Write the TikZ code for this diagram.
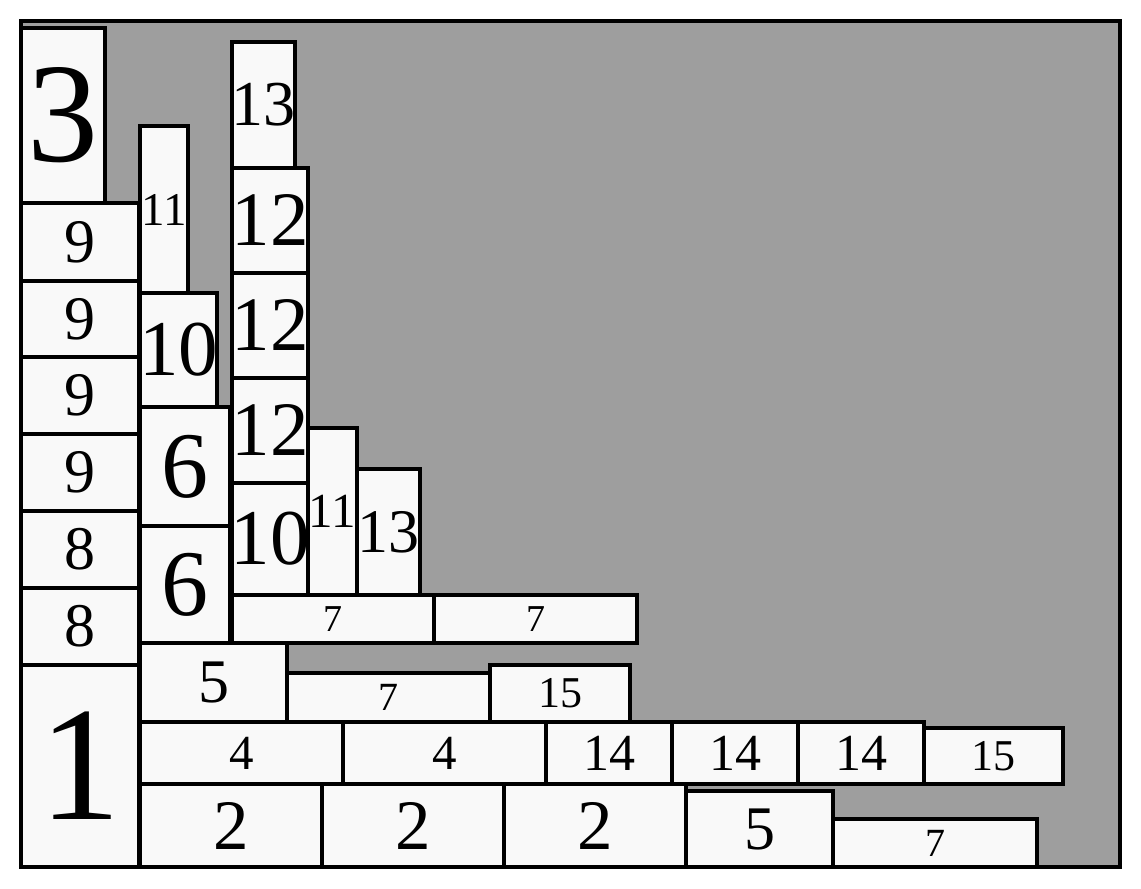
\documentclass[tikz,border=0pt]{standalone}
\usepackage{fontspec}
\setmainfont{Liberation Serif}
\definecolor{bingray}{HTML}{9E9E9E}
\definecolor{boxfill}{HTML}{F9F9F9}
\tikzset{
  binbox/.style={draw=black, fill=bingray, line width=3.5bp, inner sep=0pt},
  pkbox/.style={draw=black, fill=boxfill, line width=3.3bp, inner sep=0pt, outer sep=0pt}
}
\newcommand\pbox[8][pkbox]{%
  \pgfmathsetmacro\pkcx{(#3+#5)/2}\pgfmathsetmacro\pkcy{(#4+#6)/2}%
  \pgfmathsetmacro\pkbw{#5-#3}\pgfmathsetmacro\pkbh{#6-#4}%
  \node[#1, minimum width=\pkbw bp, minimum height=\pkbh bp,
        font=\fontsize{#7bp}{#7bp}\selectfont] (#2) at (\pkcx,\pkcy) {\makebox[0pt]{#8}};}
\begin{document}
\begin{tikzpicture}[x=1bp,y=-1bp]
\useasboundingbox (0,0) rectangle (1141,889);
\pbox[binbox]{bin}{21}{21}{1120}{867}{10}{}
% left column
\pbox{n3}{21}{28}{105}{203}{142}{3}
\pbox{n9a}{21}{203}{139}{281}{62}{9}
\pbox{n9b}{21}{281}{139}{357}{62}{9}
\pbox{n9c}{21}{357}{139}{434}{62}{9}
\pbox{n9d}{21}{434}{139}{511}{62}{9}
\pbox{n8a}{21}{511}{139}{588}{62}{8}
\pbox{n8b}{21}{588}{139}{665}{62}{8}
\pbox{n1}{21}{665}{139}{867}{163}{1}
% second column
\pbox{n11a}{140}{126}{188}{293}{47}{11}
\pbox{n10a}{140}{293}{217}{407}{79}{10}
\pbox{n6a}{140}{407}{229.5}{526}{94}{6}
\pbox{n6b}{140}{526}{229.5}{643}{94}{6}
\pbox{n5a}{140}{643}{287}{722}{62}{5}
% third column
\pbox{n13a}{232}{42}{295}{168}{64}{13}
\pbox{n12a}{232}{168}{308}{273}{77}{12}
\pbox{n12b}{232}{273}{308}{378}{77}{12}
\pbox{n12c}{232}{378}{308}{483}{77}{12}
\pbox{n10b}{232}{483}{308}{595}{79}{10}
\pbox{n11b}{308}{428}{357}{595}{49}{11}
\pbox{n13b}{357}{469}{420}{595}{62}{13}
\pbox{n7a}{232}{595}{434}{643}{38}{7}
\pbox{n7b}{434}{595}{637}{643}{38}{7}
\pbox{n7c}{287}{673}{490}{722}{40}{7}
\pbox{n15a}{490}{665}{630}{722}{44}{15}
% row of 4 / 14 / 15
\pbox{n4a}{140}{722}{343}{784}{49}{4}
\pbox{n4b}{343}{722}{546}{784}{49}{4}
\pbox{n14a}{546}{722}{672}{784}{52}{14}
\pbox{n14b}{672}{722}{798}{784}{52}{14}
\pbox{n14c}{798}{722}{924}{784}{52}{14}
\pbox{n15b}{924}{728}{1063}{784}{44}{15}
% bottom row
\pbox{n2a}{140}{784}{322}{867}{71}{2}
\pbox{n2b}{322}{784}{504}{867}{71}{2}
\pbox{n2c}{504}{784}{686}{867}{71}{2}
\pbox{n5b}{686}{791}{833}{867}{62}{5}
\pbox{n7d}{833}{819}{1037}{867}{40}{7}
\end{tikzpicture}
\end{document}
